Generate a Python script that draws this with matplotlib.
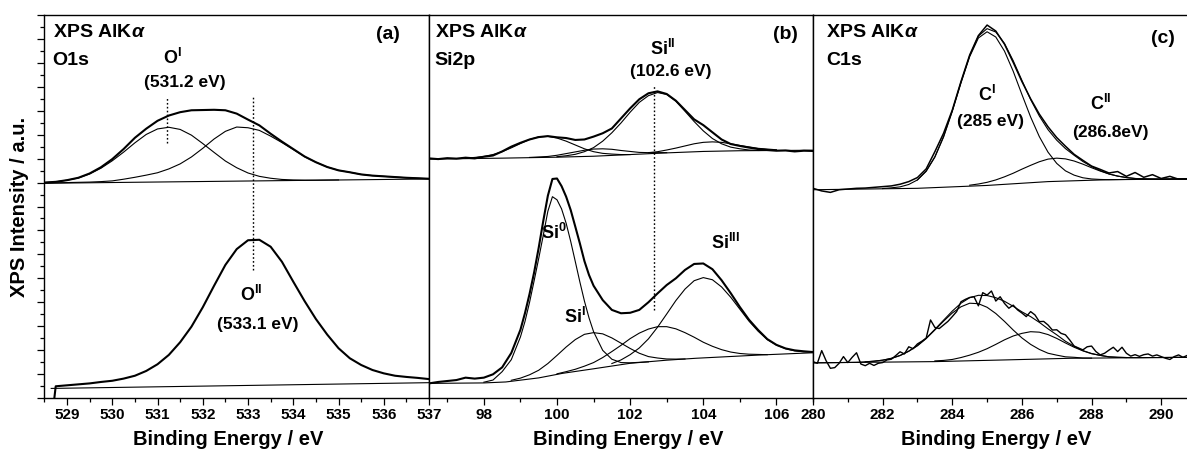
import numpy as np
import matplotlib
matplotlib.use('Agg')
import matplotlib.pyplot as plt
from matplotlib.ticker import MultipleLocator

plt.rcParams['font.family'] = ['Liberation Sans', 'DejaVu Sans']
plt.rcParams['font.weight'] = 'bold'
plt.rcParams['mathtext.fontset'] = 'custom'
plt.rcParams['mathtext.rm'] = 'Liberation Sans'
plt.rcParams['mathtext.it'] = 'Liberation Sans:italic'
plt.rcParams['mathtext.bf'] = 'Liberation Sans:bold'

# ---- (a) O1s, upper spectrum: 528.5 .. 537 eV, 0.25 eV steps
a_top_x = np.arange(528.5, 537.01, 0.25)
a_top_env = [9.00, 9.03, 9.10, 9.20, 9.38, 9.64, 9.98, 10.40, 10.87, 11.25, 11.58, 11.80,
             11.94, 12.02, 12.03, 12.04, 12.02, 11.88, 11.63, 11.39, 11.04, 10.71, 10.40,
             10.09, 9.85, 9.65, 9.51, 9.43, 9.34, 9.29, 9.26, 9.23, 9.20, 9.18, 9.16]
a_top_o1_x = np.arange(528.5, 535.01, 0.25)
a_top_o1 = [9.00, 9.03, 9.10, 9.19, 9.36, 9.60, 9.91, 10.27, 10.66, 11.01, 11.24, 11.31,
            11.22, 10.98, 10.63, 10.26, 9.90, 9.62, 9.40, 9.26, 9.18, 9.13, 9.11, 9.10,
            9.10, 9.105, 9.11]
a_top_o2 = [8.98, 8.99, 9.00, 9.01, 9.02, 9.04, 9.07, 9.14, 9.22, 9.31, 9.41, 9.57,
            9.78, 10.07, 10.43, 10.82, 11.14, 11.32, 11.29, 11.18, 10.94, 10.67, 10.38,
            10.08, 9.85, 9.65, 9.51, 9.43, 9.34, 9.29, 9.26, 9.23, 9.20, 9.18, 9.16]
a_top_bg_x = [528.5, 537.0]
a_top_bg = [8.97, 9.15]

# ---- (a) lower spectrum
a_bot_x = np.concatenate([[528.72], np.arange(528.75, 537.01, 0.25)])
a_bot_data = [0.0, 0.49, 0.53, 0.57, 0.61, 0.67, 0.72, 0.81, 0.93, 1.13, 1.41, 1.80, 2.33,
              2.98, 3.79, 4.69, 5.56, 6.22, 6.59, 6.61, 6.32, 5.69, 4.86, 4.05, 3.30,
              2.65, 2.08, 1.66, 1.38, 1.17, 1.03, 0.93, 0.88, 0.84, 0.79]
a_bot_bg_x = [528.65, 537.0]
a_bot_bg = [0.40, 0.64]

a_guide_x = [531.2, 533.1]
a_guide_lo = [10.65, 5.35]
a_guide_hi = [12.53, 12.57]

# ---- (b) Si2p, upper spectrum
b_top_x = np.arange(96.5, 107.01, 0.25)
b_top_data = [10.01, 9.98, 10.02, 10.00, 10.04, 10.01, 10.08, 10.13, 10.30, 10.50,
              10.66, 10.80, 10.90, 10.94, 10.89, 10.86, 10.78, 10.80, 10.92, 11.06,
              11.26, 11.68, 12.10, 12.48, 12.73, 12.81, 12.70, 12.42, 12.03, 11.64,
              11.40, 11.10, 10.80, 10.61, 10.53, 10.46, 10.40, 10.36, 10.33, 10.34,
              10.30, 10.33, 10.32]
b_top_bg_x = [96.5, 98.5, 100.0, 101.0, 102.0, 103.0, 104.0, 105.0, 107.0]
b_top_bg = [9.98, 10.02, 10.06, 10.10, 10.17, 10.24, 10.30, 10.33, 10.35]
b_top_c1_x = np.arange(97.5, 102.01, 0.25)
b_top_c1 = [10.02, 10.05, 10.09, 10.17, 10.29, 10.45, 10.63, 10.80, 10.91, 10.93, 10.86,
            10.73, 10.57, 10.41, 10.29, 10.22, 10.19, 10.17, 10.17]
b_top_c2_x = np.arange(100.0, 106.01, 0.25)
b_top_c2 = [10.08, 10.12, 10.18, 10.29, 10.46, 10.73, 11.08, 11.49, 11.94, 12.35, 12.63,
            12.76, 12.68, 12.40, 11.98, 11.55, 11.16, 10.84, 10.62, 10.48, 10.41, 10.36,
            10.34, 10.345, 10.35]
b_top_c3_x = np.arange(102.5, 106.01, 0.25)
b_top_c3 = [10.25, 10.29, 10.36, 10.44, 10.53, 10.62, 10.68, 10.70, 10.68, 10.62, 10.55,
            10.49, 10.43, 10.40, 10.37]
b_top_c4_x = np.arange(99.25, 103.01, 0.25)
b_top_c4 = [10.05, 10.07, 10.09, 10.14, 10.21, 10.28, 10.35, 10.40, 10.41, 10.39, 10.34,
            10.30, 10.26, 10.25, 10.25, 10.25]

# ---- (b) lower spectrum
b_bot_x = np.concatenate([np.arange(96.5, 98.76, 0.25), np.arange(99.0, 101.01, 0.125),
                          np.arange(101.25, 107.01, 0.25)])
b_bot_data = [0.61, 0.67, 0.71, 0.75, 0.85, 0.81, 0.85, 0.99, 1.28, 1.88,
              2.85, 3.55, 4.35, 5.25, 6.28, 7.40, 8.45, 9.15, 9.17, 8.85, 8.41, 7.85,
              7.16, 6.46, 5.72, 5.14, 4.69,
              4.09, 3.68, 3.54, 3.56, 3.68, 4.00, 4.37, 4.72, 5.00, 5.35, 5.60, 5.62,
              5.38, 4.92, 4.38, 3.80, 3.27, 2.84, 2.46, 2.22, 2.07, 1.99, 1.95, 1.92]
b_bot_bg_x = [96.5, 98.0, 98.6, 99.5, 100.15, 101.0, 102.0, 103.0, 103.8, 105.6, 107.0]
b_bot_bg = [0.61, 0.63, 0.67, 0.84, 1.03, 1.22, 1.45, 1.58, 1.66, 1.80, 1.89]
b_si0_x = np.concatenate([np.arange(98.0, 98.76, 0.25), np.arange(99.0, 101.01, 0.125),
                          np.arange(101.25, 102.51, 0.25)])
b_si0 = [0.66, 0.75, 1.10, 1.60, 2.55, 3.20, 4.00, 4.90, 5.83, 6.80, 7.80, 8.41, 8.28,
         7.90, 7.30, 6.54, 5.70, 4.85, 4.05, 3.35, 2.77, 1.99, 1.62, 1.48, 1.47, 1.49, 1.51]
b_si1_x = np.arange(98.75, 103.51, 0.25)
b_si1 = [0.74, 0.83, 0.97, 1.16, 1.44, 1.78, 2.13, 2.44, 2.66, 2.73, 2.68, 2.51, 2.29,
         2.07, 1.87, 1.73, 1.67, 1.63, 1.625, 1.63]
b_si2_x = np.arange(100.0, 105.76, 0.25)
b_si2 = [1.01, 1.10, 1.20, 1.33, 1.48, 1.69, 1.94, 2.20, 2.48, 2.71, 2.88, 2.98, 2.98,
         2.89, 2.73, 2.54, 2.33, 2.16, 2.02, 1.92, 1.86, 1.83, 1.82, 1.81]
b_si3_x = np.arange(101.5, 107.01, 0.25)
b_si3 = [1.44, 1.59, 1.81, 2.09, 2.47, 2.96, 3.51, 4.07, 4.55, 4.90, 5.03, 4.94, 4.64,
         4.21, 3.71, 3.21, 2.79, 2.44, 2.21, 2.06, 1.97, 1.93, 1.92]

b_guide_x = [102.65]
b_guide_lo = [3.68]
b_guide_hi = [13.07]

# ---- (c) C1s, upper spectrum
c_top_x = np.arange(280.0, 290.76, 0.25)
c_top_data = [8.76, 8.65, 8.59, 8.70, 8.73, 8.76, 8.77, 8.80, 8.83, 8.86, 8.93, 9.04,
              9.21, 9.57, 10.29, 11.06, 12.03, 13.22, 14.33, 15.14, 15.58, 15.33, 14.78,
              14.02, 13.22, 12.50, 11.86, 11.33, 10.88, 10.52, 10.18, 9.93, 9.69, 9.55,
              9.40, 9.46, 9.26, 9.42, 9.22, 9.33, 9.17, 9.26, 9.14, 9.16]
c_top_env_x = np.arange(283.0, 290.76, 0.25)
c_top_env = [9.11, 9.48, 10.08, 10.93, 12.00, 13.20, 14.30, 15.12, 15.43, 15.29, 14.81,
             14.09, 13.27, 12.47, 11.78, 11.21, 10.77, 10.42, 10.14, 9.88, 9.67, 9.50,
             9.36, 9.27, 9.21, 9.17, 9.155, 9.15, 9.14, 9.145, 9.15, 9.15]
c_top_c1_x = np.arange(282.0, 290.76, 0.25)
c_top_c1 = [8.75, 8.78, 8.82, 8.92, 9.11, 9.47, 10.06, 10.90, 11.97, 13.16, 14.26, 15.04,
            15.30, 15.08, 14.49, 13.65, 12.68, 11.74, 10.92, 10.27, 9.80, 9.49, 9.31,
            9.20, 9.15, 9.13, 9.12, 9.125, 9.13, 9.13, 9.135, 9.14, 9.14, 9.145, 9.15, 9.15]
c_top_c2_x = np.arange(284.5, 290.76, 0.25)
c_top_c2 = [8.89, 8.94, 9.01, 9.11, 9.24, 9.39, 9.56, 9.72, 9.87, 9.98, 10.02, 9.99, 9.90,
            9.77, 9.62, 9.48, 9.36, 9.27, 9.21, 9.17, 9.155, 9.14, 9.14, 9.145, 9.15, 9.15]
c_top_bg_x = [280.0, 283.0, 285.0, 286.75, 288.5, 290.75]
c_top_bg = [8.70, 8.76, 8.88, 9.04, 9.12, 9.15]

# ---- (c) lower spectrum (noisy), 0.125 eV steps
c_bot_x = np.arange(280.0, 290.76, 0.125)
c_bot_data = [1.52, 1.45, 1.98, 1.56, 1.24, 1.27, 1.45, 1.73,
              1.48, 1.70, 1.89, 1.42, 1.35, 1.45, 1.36, 1.45,
              1.48, 1.59, 1.62, 1.77, 1.93, 1.84, 2.14, 2.06,
              2.26, 2.37, 2.50, 3.26, 2.95, 2.90, 3.05, 3.20,
              3.40, 3.61, 4.02, 4.12, 4.20, 4.23, 3.85, 4.40,
              4.30, 4.47, 4.05, 4.23, 3.95, 3.75, 3.88, 3.68,
              3.55, 3.40, 3.61, 3.47, 3.19, 3.20, 3.05, 2.84,
              2.85, 2.70, 2.64, 2.42, 2.17, 2.09, 2.01, 2.14,
              2.17, 1.94, 1.80, 1.87, 2.00, 2.12, 1.94, 2.12,
              1.87, 1.75, 1.81, 1.74, 1.81, 1.84, 1.75, 1.80,
              1.73, 1.66, 1.61, 1.73, 1.80, 1.70, 1.78]
c_bot_env_x = np.arange(280.0, 290.76, 0.25)
c_bot_env = [1.47, 1.47, 1.475, 1.48, 1.485, 1.49, 1.51, 1.54, 1.58, 1.66, 1.78, 1.96,
             2.20, 2.50, 2.87, 3.25, 3.63, 3.96, 4.19, 4.29, 4.28, 4.19, 4.04, 3.83,
             3.60, 3.40, 3.16, 2.89, 2.64, 2.37, 2.16, 1.98, 1.86, 1.78, 1.72, 1.70,
             1.69, 1.685, 1.685, 1.69, 1.69, 1.695, 1.70, 1.70]
c_bot_c1_x = np.arange(281.5, 288.01, 0.25)
c_bot_c1 = [1.51, 1.535, 1.58, 1.65, 1.77, 1.95, 2.18, 2.48, 2.84, 3.21, 3.55, 3.81, 3.96,
            3.94, 3.79, 3.53, 3.20, 2.84, 2.51, 2.24, 2.03, 1.87, 1.79, 1.72, 1.70, 1.67,
            1.665]
c_bot_c2_x = np.arange(283.5, 289.01, 0.25)
c_bot_c2 = [1.55, 1.57, 1.61, 1.69, 1.79, 1.91, 2.06, 2.24, 2.43, 2.59, 2.70, 2.77, 2.75,
            2.65, 2.49, 2.30, 2.12, 1.97, 1.85, 1.78, 1.72, 1.70, 1.69]
c_bot_bg_x = [280.0, 283.5, 285.5, 287.4, 290.75]
c_bot_bg = [1.47, 1.52, 1.59, 1.66, 1.70]

THIN = 0.8
THICK = 1.5
INK = 'black'

W, H = 1187, 455
fig = plt.figure(figsize=(W / 100, H / 100), dpi=100)
bottom, height = 57 / H, 383 / H
ax_a = fig.add_axes([43.5 / W, bottom, 385.5 / W, height])
ax_b = fig.add_axes([429 / W, bottom, 384 / W, height])
ax_c = fig.add_axes([813 / W, bottom, 383 / W, height])

for ax in (ax_a, ax_b, ax_c):
    ax.set_ylim(0, 16)
    for s in ax.spines.values():
        s.set_linewidth(1.0)
    ax.tick_params(axis='x', which='major', direction='out', length=5, width=0.9,
                   labelsize=11, pad=2.5)
    ax.tick_params(axis='x', which='minor', direction='out', length=3, width=0.9)

ax_a.set_xlim(528.48, 537)
ax_a.xaxis.set_major_locator(MultipleLocator(1))
ax_a.xaxis.set_minor_locator(MultipleLocator(0.5))
ax_a.yaxis.set_major_locator(MultipleLocator(1))
ax_a.yaxis.set_minor_locator(MultipleLocator(0.5))
ax_a.tick_params(axis='y', which='major', direction='out', length=5, width=0.9, labelleft=False)
ax_a.tick_params(axis='y', which='minor', direction='out', length=3, width=0.9)

ax_b.set_xlim(96.5, 107)
ax_c.set_xlim(280, 291)
for ax in (ax_b, ax_c):
    ax.xaxis.set_major_locator(MultipleLocator(2))
    ax.xaxis.set_minor_locator(MultipleLocator(1))
    ax.tick_params(axis='y', which='both', left=False, labelleft=False)

# panel (a)
ax_a.plot(a_top_bg_x, a_top_bg, color=INK, lw=THIN)
ax_a.plot(a_top_o1_x, a_top_o1, color=INK, lw=THIN)
ax_a.plot(a_top_x, a_top_o2, color=INK, lw=THIN)
ax_a.plot(a_top_x, a_top_env, color=INK, lw=THICK)
ax_a.plot(a_bot_bg_x, a_bot_bg, color=INK, lw=THIN)
ax_a.plot(a_bot_x, a_bot_data, color=INK, lw=THICK)
ax_a.vlines(a_guide_x, a_guide_lo, a_guide_hi, colors=INK, lw=1.0, linestyles=(0, (1.2, 1.6)))

# panel (b)
ax_b.plot(b_top_bg_x, b_top_bg, color=INK, lw=THIN)
for xs, ys in ((b_top_c1_x, b_top_c1), (b_top_c2_x, b_top_c2),
               (b_top_c3_x, b_top_c3), (b_top_c4_x, b_top_c4)):
    ax_b.plot(xs, ys, color=INK, lw=THIN)
ax_b.plot(b_top_x, b_top_data, color=INK, lw=THICK)
ax_b.plot(b_bot_bg_x, b_bot_bg, color=INK, lw=THIN)
for xs, ys in ((b_si0_x, b_si0), (b_si1_x, b_si1), (b_si2_x, b_si2), (b_si3_x, b_si3)):
    ax_b.plot(xs, ys, color=INK, lw=THIN)
ax_b.plot(b_bot_x, b_bot_data, color=INK, lw=THICK)
ax_b.vlines(b_guide_x, b_guide_lo, b_guide_hi, colors=INK, lw=1.0, linestyles=(0, (1.2, 1.6)))

# panel (c)
ax_c.plot(c_top_bg_x, c_top_bg, color=INK, lw=THIN)
ax_c.plot(c_top_c1_x, c_top_c1, color=INK, lw=THIN)
ax_c.plot(c_top_c2_x, c_top_c2, color=INK, lw=THIN)
ax_c.plot(c_top_env_x, c_top_env, color=INK, lw=THIN)
ax_c.plot(c_top_x, c_top_data, color=INK, lw=1.1)
ax_c.plot(c_bot_bg_x, c_bot_bg, color=INK, lw=THIN)
ax_c.plot(c_bot_c1_x, c_bot_c1, color=INK, lw=THIN)
ax_c.plot(c_bot_c2_x, c_bot_c2, color=INK, lw=THIN)
ax_c.plot(c_bot_env_x, c_bot_env, color=INK, lw=THIN)
ax_c.plot(c_bot_x, c_bot_data, color=INK, lw=1.0)

# labels
TITLE = 14
for ax, x0, x1, core, tag in ((ax_a, 528.68, 536.36, 'O1s', '(a)'),
                              (ax_b, 96.66, 106.60, 'Si2p', '(b)'),
                              (ax_c, 280.37, 290.40, 'C1s', '(c)')):
    ax.text(x0, 15.25, r'XPS AlK$\alpha$', fontsize=TITLE, ha='left', va='center')
    ax.text(x0, 14.08, core, fontsize=TITLE, ha='left', va='center')
    ax.text(x1, 15.2 if tag != '(c)' else 15.0, tag, fontsize=TITLE, ha='right', va='center')

PK = 13
EV = 12.5
ax_a.text(531.32, 14.2, r'O$^{\rm I}$', fontsize=PK, ha='center', va='center')
ax_a.text(531.6, 13.16, '(531.2 eV)', fontsize=EV, ha='center', va='center')
ax_a.text(533.06, 4.30, r'O$^{\rm II}$', fontsize=PK, ha='center', va='center')
ax_a.text(533.21, 3.05, '(533.1 eV)', fontsize=EV, ha='center', va='center')

ax_b.text(102.88, 14.6, r'Si$^{\rm II}$', fontsize=PK, ha='center', va='center')
ax_b.text(103.10, 13.62, '(102.6 eV)', fontsize=EV, ha='center', va='center')
ax_b.text(99.92, 6.89, r'Si$^{\rm 0}$', fontsize=PK, ha='center', va='center')
ax_b.text(100.49, 3.38, r'Si$^{\rm I}$', fontsize=PK, ha='center', va='center')
ax_b.text(104.60, 6.47, r'Si$^{\rm III}$', fontsize=PK, ha='center', va='center')

ax_c.text(285.0, 12.66, r'C$^{\rm I}$', fontsize=PK, ha='center', va='center')
ax_c.text(285.09, 11.57, '(285 eV)', fontsize=EV, ha='center', va='center')
ax_c.text(288.25, 12.28, r'C$^{\rm II}$', fontsize=PK, ha='center', va='center')
ax_c.text(288.53, 11.11, '(286.8eV)', fontsize=EV, ha='center', va='center')

fig.text(20 / W, (H - 206.5) / H, 'XPS Intensity / a.u.', rotation=90, fontsize=14.5,
         ha='center', va='center')
for xc in (228, 628, 996):
    fig.text(xc / W, 10 / H, 'Binding Energy / eV', fontsize=14.5, ha='center', va='baseline')

fig.savefig('out.png', dpi=100)
